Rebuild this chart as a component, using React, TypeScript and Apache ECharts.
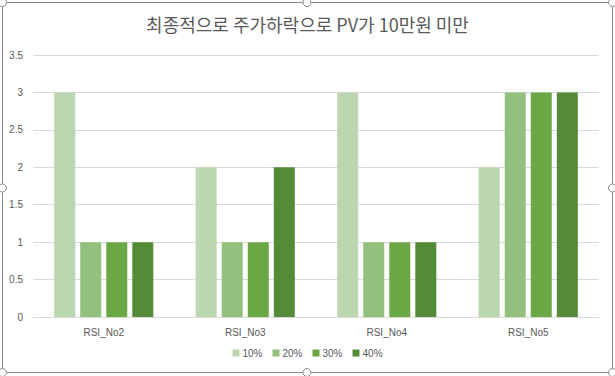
import React, { useEffect, useRef } from "react";
import * as echarts from "echarts";

const categories = ["RSI_No2", "RSI_No3", "RSI_No4", "RSI_No5"];
const seriesNames = ["10%", "20%", "30%", "40%"];
const values10 = [3, 2, 3, 2];
const values20 = [1, 1, 1, 3];
const values30 = [1, 1, 1, 3];
const values40 = [1, 2, 1, 3];
const colors = ["#bdd6b2", "#93c07d", "#6ba845", "#548b37"];
const titleText = "최종적으로 주가하락으로 PV가 10만원 미만";

export default function App() {
  const ref = useRef<HTMLDivElement>(null);
  useEffect(() => {
    if (!ref.current) return;
    const chart = echarts.init(ref.current, null, { renderer: "svg" });
    const all = [values10, values20, values30, values40];
    const W = 615;
    const H = 376;
    const frameStyle = { fill: "none", stroke: "#8a8a8a", lineWidth: 1 };
    const handle = (x: number, y: number) => ({
      type: "circle",
      shape: { cx: x, cy: y, r: 4 },
      style: { fill: "#ffffff", stroke: "#8a8a8a", lineWidth: 1 },
      z: 100,
    });
    chart.setOption({
      animation: false,
      backgroundColor: "#ffffff",
      title: {
        text: titleText,
        left: "center",
        top: 10,
        textStyle: {
          fontFamily: "Noto Sans CJK KR",
          fontSize: 18,
          fontWeight: "normal",
          color: "#595959",
        },
      },
      legend: {
        data: seriesNames,
        bottom: 13,
        left: "center",
        itemWidth: 7,
        itemHeight: 7,
        itemGap: 10,
        icon: "rect",
        textStyle: { fontSize: 10, color: "#595959", fontFamily: "Liberation Sans", padding: [0, 0, 0, -2] },
      },
      grid: { left: 33, right: 16, top: 55, bottom: 59, containLabel: false },
      xAxis: {
        type: "category",
        data: categories,
        axisLine: { lineStyle: { color: "#d9d9d9" } },
        axisTick: { show: false },
        axisLabel: { fontSize: 10, color: "#595959", margin: 10, fontFamily: "Liberation Sans" },
      },
      yAxis: {
        type: "value",
        min: 0,
        max: 3.5,
        interval: 0.5,
        axisLine: { show: false },
        axisTick: { show: false },
        splitLine: { lineStyle: { color: "#d9d9d9" } },
        axisLabel: { fontSize: 10, color: "#595959", margin: 10, fontFamily: "Liberation Sans" },
      },
      series: all.map((d, i) => ({
        name: seriesNames[i],
        type: "bar",
        data: d,
        barWidth: 21,
        barGap: "24%",
        itemStyle: { color: colors[i] },
      })),
      graphic: [
        { type: "rect", shape: { x: 2.5, y: 2.5, width: W - 5, height: H - 6 }, style: frameStyle, z: 99 },
        handle(2.5, 2.5),
        handle(307, 2.5),
        handle(W - 2.5, 2.5),
        handle(2.5, 188),
        handle(W - 2.5, 188),
        handle(2.5, H - 3.5),
        handle(307, H - 3.5),
        handle(W - 2.5, H - 3.5),
      ],
    });
    return () => chart.dispose();
  }, []);
  return (
    <div
      ref={ref}
      style={{ position: "absolute", left: 0, top: 0, width: 615, height: 376 }}
    />
  );
}
